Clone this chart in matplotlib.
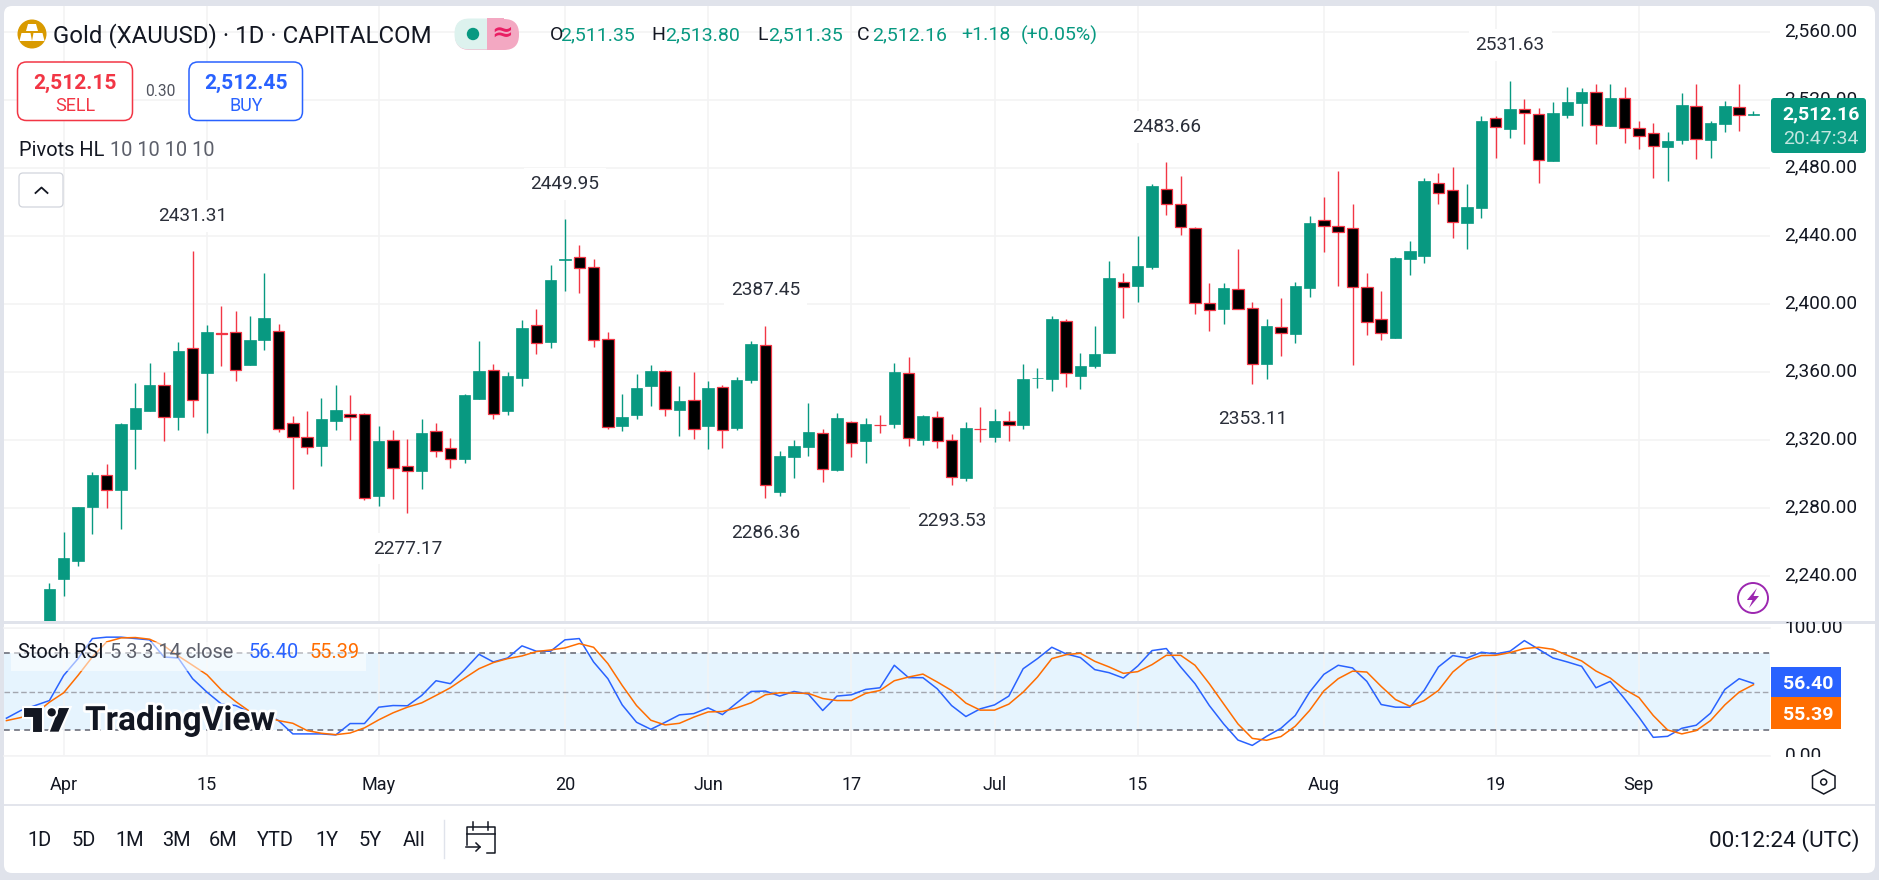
import matplotlib
matplotlib.use("Agg")
import matplotlib.pyplot as plt
import matplotlib.patheffects as pe
from matplotlib.patches import FancyBboxPatch, Rectangle, Circle, Polygon
from matplotlib.lines import Line2D
from matplotlib.transforms import Bbox, ScaledTranslation

opens = [2205.0,2238.6,2249.2,2280.8,2299.4,2291.0,2326.7,2337.3,2352.4,2333.9,2374.1,2359.8,2383.0,2383.5,2364.3,2379.0,2384.1,2330.0,2321.8,2316.7,
2331.4,2335.3,2335.3,2287.3,2320.0,2304.7,2302.0,2325.3,2315.3,2309.0,2344.3,2361.2,2337.3,2356.7,2387.6,2377.8,2426.3,2427.6,2421.8,2379.4,
2328.4,2334.9,2352.0,2360.6,2337.8,2343.5,2328.4,2351.4,2327.3,2355.5,2376.3,2289.6,2310.2,2316.1,2324.1,2302.5,2330.6,2319.6,2329.1,2329.6,
2359.4,2320.2,2333.5,2320.0,2297.8,2326.6,2322.0,2331.2,2329.0,2356.4,2356.1,2390.0,2357.8,2363.7,2371.4,2412.9,2410.8,2422.0,2467.6,2458.8,
2444.7,2400.6,2397.3,2408.8,2397.6,2364.9,2386.5,2382.5,2409.6,2449.4,2445.9,2444.7,2410.0,2391.2,2380.2,2426.7,2428.4,2471.2,2467.1,2447.8,
2456.7,2509.4,2503.1,2514.7,2511.8,2484.3,2511.4,2518.4,2524.7,2504.9,2521.2,2503.5,2500.6,2492.5,2496.7,2516.5,2496.7,2506.1,2515.9,2511.35]
highs = [2235.9,2266.1,2280.8,2301.4,2306.1,2330.2,2353.7,2365.5,2360.2,2377.8,2431.31,2387.8,2399.0,2396.1,2393.1,2418.4,2388.4,2334.3,2337.3,2344.9,
2352.5,2346.7,2336.1,2328.4,2326.1,2320.8,2332.5,2330.2,2321.4,2347.3,2378.4,2364.9,2360.2,2390.8,2397.3,2423.1,2449.95,2434.9,2426.7,2383.7,
2347.3,2359.0,2364.3,2361.4,2352.0,2360.2,2354.9,2352.5,2357.3,2378.4,2387.45,2313.7,2320.2,2342.0,2326.7,2336.1,2331.4,2333.1,2334.9,2365.5,
2369.0,2334.9,2337.3,2323.7,2330.8,2339.6,2338.4,2337.3,2364.9,2362.5,2393.1,2391.4,2371.4,2387.3,2425.5,2418.4,2440.2,2470.8,2483.66,2475.5,
2445.5,2412.5,2412.5,2432.5,2401.4,2391.4,2403.7,2413.1,2452.0,2463.1,2478.4,2459.0,2418.4,2407.8,2427.8,2437.3,2474.3,2477.3,2480.8,2470.8,
2510.8,2510.8,2531.63,2520.8,2515.5,2519.0,2527.8,2527.3,2529.6,2529.6,2527.8,2507.8,2506.7,2501.4,2524.3,2529.6,2507.8,2519.6,2529.6,2513.80]
lows = [2200.0,2228.4,2246.3,2265.1,2280.4,2268.0,2303.1,2337.3,2319.6,2326.1,2333.9,2324.3,2363.7,2354.9,2364.3,2373.1,2324.9,2291.4,2312.0,2304.9,
2326.1,2320.2,2284.9,2281.4,2285.5,2277.17,2291.4,2310.2,2303.7,2306.7,2344.3,2332.5,2334.9,2352.0,2370.8,2374.3,2407.8,2406.7,2374.9,2326.7,
2325.5,2332.5,2340.2,2334.3,2322.5,2320.8,2314.9,2315.5,2326.1,2353.7,2286.36,2287.3,2297.8,2310.8,2295.5,2302.0,2310.2,2306.7,2324.3,2327.3,
2316.7,2317.3,2315.5,2293.53,2296.1,2319.0,2319.0,2319.6,2326.7,2350.8,2349.0,2351.4,2350.2,2362.5,2371.4,2392.0,2401.4,2420.8,2452.5,2440.8,
2394.3,2384.3,2388.4,2397.1,2353.11,2356.1,2369.6,2377.3,2404.3,2430.8,2410.8,2364.3,2382.0,2379.0,2380.2,2417.3,2424.3,2459.0,2439.0,2432.5,
2450.8,2486.1,2497.8,2494.3,2471.4,2484.3,2509.6,2504.9,2494.3,2504.9,2494.9,2491.4,2474.3,2472.5,2494.3,2485.5,2486.1,2501.4,2502.0,2511.35]
closes = [2232.5,2250.8,2280.8,2299.6,2290.6,2329.6,2339.0,2352.5,2333.5,2372.5,2343.9,2383.7,2382.8,2361.2,2379.0,2392.0,2326.5,2321.8,2315.9,2332.5,
2337.8,2333.5,2285.9,2319.6,2303.5,2301.8,2324.3,2313.5,2308.8,2346.7,2360.8,2335.3,2357.8,2386.1,2377.1,2414.3,2426.5,2421.2,2379.0,2327.6,
2333.7,2350.8,2360.8,2338.2,2343.1,2326.5,2350.8,2325.9,2355.5,2376.7,2293.5,2310.8,2316.7,2324.9,2302.9,2333.1,2318.2,2329.6,2328.9,2360.2,
2321.2,2334.3,2319.4,2298.2,2327.3,2326.4,2331.4,2328.8,2356.1,2356.6,2391.4,2359.4,2363.7,2370.8,2415.5,2410.4,2422.5,2469.6,2458.8,2445.3,
2400.6,2396.5,2409.6,2397.1,2364.7,2387.3,2383.3,2410.8,2447.8,2445.9,2442.4,2410.0,2389.4,2382.9,2427.3,2431.4,2472.5,2465.3,2448.2,2457.3,
2507.8,2504.1,2514.9,2512.4,2484.7,2512.5,2519.0,2524.9,2505.3,2521.4,2503.5,2499.2,2493.3,2496.1,2517.3,2497.5,2506.7,2516.7,2511.6,2512.16]

stoch_k = [29.2,35.2,39.1,43.0,62.7,75.8,91.5,92.6,92.6,91.5,90.5,77.1,76.3,60.1,49.6,40.4,39.1,33.9,33.4,27.3,16.9,16.9,16.9,16.1,25.0,25.0,37.8,39.1,38.9,47.0,58.5,56.2,
67.2,79.2,73.2,76.3,85.8,81.6,81.6,90.5,91.5,73.2,60.1,39.6,26.0,20.5,26.0,31.8,32.8,37.3,32.0,41.2,50.1,50.4,46.5,50.1,48.0,35.2,46.5,47.5,51.7,53.0,70.6,
60.9,60.9,52.2,39.1,30.5,36.5,39.6,46.5,67.9,75.8,84.7,79.5,76.6,67.2,64.8,60.6,70.0,82.1,83.7,69.3,56.2,39.1,24.7,12.1,7.9,15.0,21.3,31.3,49.6,63.5,70.6,68.5,
58.0,39.9,37.8,37.8,50.9,69.3,78.2,76.3,80.8,79.5,81.6,89.9,83.1,76.3,73.2,69.8,53.0,58.0,44.4,30.0,14.2,15.0,21.3,23.7,33.1,51.7,60.1,56.40]
stoch_d = [27.3,29.7,32.6,41.7,49.1,62.7,77.1,88.9,92.0,92.3,91.0,85.8,77.9,70.6,63.2,51.4,42.3,34.4,30.7,27.3,25.2,19.5,17.4,16.3,17.6,21.6,27.9,33.4,37.8,41.2,47.0,53.0,
60.6,67.9,72.7,75.8,77.9,81.3,82.6,84.2,87.6,84.7,71.9,54.8,39.1,27.6,23.9,25.2,30.0,34.1,34.4,37.3,41.2,47.5,49.1,48.8,48.6,44.6,43.0,43.0,48.6,50.9,58.5,
61.4,63.7,57.5,50.9,41.0,35.5,35.5,40.2,49.6,61.4,75.8,78.9,80.0,73.7,69.3,64.3,65.6,71.1,78.4,78.4,70.6,56.2,40.4,24.7,13.4,11.9,14.8,22.9,35.2,50.6,60.1,66.0,
65.3,54.1,43.8,38.6,43.0,50.9,65.3,74.5,78.2,78.4,80.5,83.7,84.7,83.1,78.4,74.0,66.1,60.6,51.7,45.4,31.3,20.0,16.9,19.5,27.3,39.6,49.6,55.39]

pivot_idx = [10, 36, 50, 78, 102, 25, 50, 63, 84]
pivot_val = [2431.31, 2449.95, 2387.45, 2483.66, 2531.63, 2277.17, 2286.36, 2293.53, 2353.11]
pivot_side = [1, 1, 1, 1, 1, -1, -1, -1, -1]

date_idx = [1, 11, 23, 36, 46, 56, 66, 76, 89, 101, 111]
date_lab = ["Apr", "15", "May", "20", "Jun", "17", "Jul", "15", "Aug", "19", "Sep"]
price_ticks = [2240, 2280, 2320, 2360, 2400, 2440, 2480, 2520, 2560]
range_lab = ["1D", "5D", "1M", "3M", "6M", "YTD", "1Y", "5Y", "All"]
range_x = [39.6, 84, 129.5, 176, 223, 275, 327, 370.5, 413.7]

assert len(opens) == len(highs) == len(lows) == len(closes) == 120
assert len(stoch_k) == len(stoch_d) == 123

FONT = "Roboto"
plt.rcParams["font.family"] = FONT
W, H = 1879, 880
UP, DN, BLUE, ORANGE = "#089981", "#F23645", "#2962FF", "#FF6D00"
GRID, FRAME, INK, GREY = "#F3F3F4", "#E0E3EB", "#131722", "#787B86"

fig = plt.figure(figsize=(W / 100, H / 100), dpi=100, facecolor=FRAME)


def box(x0, y0, x1, y1):
    return [x0 / W, 1 - y1 / H, (x1 - x0) / W, (y1 - y0) / H]


def pixel_axes(zorder):
    a = fig.add_axes([0, 0, 1, 1], zorder=zorder)
    a.set_xlim(0, W)
    a.set_ylim(H, 0)
    a.axis("off")
    a.patch.set_alpha(0)
    return a


def raise_labels(labels, px):
    for t in labels:
        t.set_transform(t.get_transform() + ScaledTranslation(0, px / 100, fig.dpi_scale_trans))


bg = pixel_axes(-1)
bg.add_patch(FancyBboxPatch((8, 10), 1863, 859, boxstyle="round,pad=4,rounding_size=8", fc="white", ec="none"))
bg.add_patch(Rectangle((4, 621), 1871, 3.5, fc=FRAME, ec="none"))
bg.add_line(Line2D([4, 1875], [805, 805], color=FRAME, lw=1.3))

PX0, PDX = 49.4, 14.32
xlim = ((4 - PX0) / PDX, (1770 - PX0) / PDX)

ax = fig.add_axes(box(4, 6, 1770, 621), facecolor="none", zorder=1)
ax.set_xlim(*xlim)
ax.set_ylim(2400 - (621 - 304.33) / 1.7, 2400 + (304.33 - 6) / 1.7)
ax.set_xticks(date_idx)
ax.set_xticklabels([])
ax.set_yticks(price_ticks)
ax.set_yticklabels([f"{p:,.2f}" for p in price_ticks], fontsize=13.7, color=INK)
ax.yaxis.tick_right()
ax.tick_params(axis="both", length=0, pad=10.5)
raise_labels(ax.get_yticklabels(), 2.5)
ax.grid(True, color=GRID, lw=1.2)
ax.set_axisbelow(True)
for s in ax.spines.values():
    s.set_visible(False)

xs = list(range(len(opens)))
for i in xs:
    up = closes[i] >= opens[i]
    c = UP if up else DN
    ax.plot([i, i], [lows[i], highs[i]], color=c, lw=1.0, solid_capstyle="butt", zorder=2)
    ax.bar(i, abs(closes[i] - opens[i]), bottom=min(opens[i], closes[i]), width=0.8,
           color=UP if up else "black", edgecolor=c, linewidth=0.9 if not up else 0.5, zorder=3)

for i, v, side in zip(pivot_idx, pivot_val, pivot_side):
    ax.annotate(f"{v:.2f}", xy=(i, v), xytext=(0, side * 25.5), textcoords="offset points",
                ha="center", va="center", fontsize=13.7, color="#2A2E39", zorder=4,
                bbox=dict(fc="white", ec="none", pad=5))

ax2 = fig.add_axes(box(4, 627.7, 1770, 755.5), facecolor="none", zorder=1)
ax2.set_xlim(*xlim)
ax2.set_ylim(0, 100)
ax2.axhspan(20, 80, color="#E6F4FE", lw=0, zorder=0)
ax2.axhline(80, color=GREY, lw=1.3, ls=(0, (3.2, 2.4)), zorder=1)
ax2.axhline(20, color=GREY, lw=1.3, ls=(0, (3.2, 2.4)), zorder=1)
ax2.axhline(50, color="#A3A6AF", lw=1.0, ls=(0, (4, 2)), zorder=1)
ax2.set_xticks(date_idx)
ax2.set_xticklabels(date_lab, fontsize=13, color=INK)
ax2.set_yticks([0, 100])
ax2.set_yticklabels(["0.00", "100.00"], fontsize=13.7, color=INK)
ax2.yaxis.tick_right()
ax2.tick_params(axis="y", length=0, pad=10.5)
ax2.tick_params(axis="x", length=0, pad=14.5)
raise_labels(ax2.get_yticklabels(), 1.5)
ax2.grid(True, color=GRID, lw=1.1)
ax2.set_axisbelow(True)
for s in ax2.spines.values():
    s.set_color(GRID)
    s.set_linewidth(1.1)
ax2.spines["left"].set_visible(False)
ax2.spines["right"].set_visible(False)
clip = Bbox.from_extents(1771, H - 757, 1875, H - 622)
for t in ax2.get_yticklabels():
    t.set_clip_box(clip)
    t.set_clip_on(True)
sx = [i - 3 for i in range(len(stoch_k))]
ax2.plot(sx, stoch_k, color=BLUE, lw=1.1, zorder=3)
ax2.plot(sx, stoch_d, color=ORANGE, lw=1.1, zorder=4)

ui = pixel_axes(10)


def T(x, y, s, px, color=INK, ha="center", va="center", **kw):
    return ui.text(x, y, s, fontsize=px * 0.72, color=color, ha=ha, va=va, **kw)


def rbox(x0, y0, x1, y1, r, fc="white", ec="none", lw=1.0, **kw):
    p = FancyBboxPatch((x0 + r, y0 + r), x1 - x0 - 2 * r, y1 - y0 - 2 * r,
                       boxstyle=f"round,pad={r},rounding_size={r}", fc=fc, ec=ec, lw=lw, **kw)
    ui.add_patch(p)
    return p


# header
ui.add_patch(Circle((32, 34), 14.5, fc="#D99A00", ec="none"))
for pts in ([(28, 24), (36, 24), (38, 31), (26, 31)],
            [(19.5, 41), (21.5, 33), (30.5, 33), (32, 41)],
            [(32, 41), (33.5, 33), (42.5, 33), (44.5, 41)]):
    ui.add_patch(Polygon(pts, closed=True, fc="white", ec="none"))
T(53, 36, "Gold (XAUUSD) · 1D · CAPITALCOM", 24, ha="left")
rbox(455, 19, 519, 50, 15, fc="#F3A8C2")
ui.add_patch(FancyBboxPatch((470, 34), 17, 0, boxstyle="round,pad=15.5,rounding_size=15", fc="#DDF2EE", ec="none"))
ui.add_patch(Rectangle((487, 18), 17, 32.5, fc="#F3A8C2", ec="none"))
ui.add_patch(Circle((473, 34), 6.2, fc=UP, ec="none"))
T(502, 33, "≈", 26, color="#E91E63", family="DejaVu Sans", fontweight="bold")

OHLC = 19.5
T(550, 35, "O", OHLC, ha="left")
T(560, 35, "2,511.35", OHLC, color=UP, ha="left")
T(651, 35, "H", OHLC, ha="left")
T(665, 35, "2,513.80", OHLC, color=UP, ha="left")
T(757, 35, "L", OHLC, ha="left")
T(768, 35, "2,511.35", OHLC, color=UP, ha="left")
T(857, 35, "C", OHLC, ha="left")
T(872, 35, "2,512.16", OHLC, color=UP, ha="left")
T(961, 35, "+1.18", OHLC, color=UP, ha="left")
T(1021, 35, "(+0.05%)", OHLC, color=UP, ha="left")

rbox(17.5, 62, 132.5, 120.5, 9, ec=DN, lw=1.1)
T(75, 83, "2,512.15", 21, color=DN, fontweight="bold")
T(75, 106, "SELL", 18, color=DN)
T(160, 92, "0.30", 15.5, color="#50535E")
rbox(189, 62, 302.5, 120.5, 9, ec=BLUE, lw=1.1)
T(246, 83, "2,512.45", 21, color=BLUE, fontweight="bold")
T(246, 106, "BUY", 18, color=BLUE)

T(19, 150, "Pivots HL", 20, ha="left")
T(110, 150, "10 10 10 10", 20, color="#5D606B", ha="left")
rbox(19, 173, 63, 207, 4, ec="#D1D4DC", lw=0.9)
ui.add_line(Line2D([35.5, 41.5, 47.5], [193, 187.5, 193], color=INK, lw=1.3))

# live price tag
rbox(1771, 98, 1866, 153, 3, fc=UP)
T(1821, 114, "2,512.16", 19.5, color="white", fontweight="bold")
T(1821, 139, "20:47:34", 19.5, color="#C3E6E0")

# purple lightning badge
ui.add_patch(Circle((1753, 598), 15, fc="white", ec="#9C27B0", lw=1.4))
ui.add_patch(Polygon([(1757, 588), (1747, 600), (1752.5, 600), (1749, 608), (1759, 596), (1753.5, 596)],
                     closed=True, fc="#9C27B0", ec="none"))

# indicator legend
ui.add_patch(Rectangle((11, 642), 355, 29.5, fc="white", alpha=0.55, ec="none"))
T(18, 653, "Stoch RSI", 20, ha="left")
T(110, 653, "5 3 3 14 close", 20, color="#5D606B", ha="left")
T(249, 653, "56.40", 20, color=BLUE, ha="left")
T(310, 653, "55.39", 20, color=ORANGE, ha="left")

# indicator tags
ui.add_patch(Rectangle((1771, 667), 70, 30, fc=BLUE, ec="none"))
ui.add_patch(Rectangle((1771, 697), 70, 32, fc=ORANGE, ec="none"))
T(1808, 684, "56.40", 19.5, color="white", fontweight="bold")
T(1808, 715, "55.39", 19.5, color="white", fontweight="bold")

# TradingView logo
halo = [pe.withStroke(linewidth=4, foreground="white")]
logo = "#131722"
for shape in (Polygon([(22.7, 707), (43.3, 707), (43.3, 732.7), (32.3, 732.7), (32.3, 717.7), (22.7, 717.7)], closed=True),
              Polygon([(58.3, 707), (70.7, 707), (59.3, 732.7), (48.3, 732.7)], closed=True),
              Circle((51.7, 712.3), 5.2)):
    shape.set(fc=logo, ec="white", lw=1.5)
    ui.add_patch(shape)
T(85, 721, "TradingView", 33.5, color=logo, ha="left", fontweight="bold", path_effects=halo)

# gear
ui.add_patch(Polygon([(1823.7, 770), (1835, 776), (1835, 788), (1823.7, 794), (1812.5, 788), (1812.5, 776)],
                     closed=True, fc="none", ec=INK, lw=1.1))
ui.add_patch(Circle((1823.7, 782), 3, fc="none", ec=INK, lw=1.1))

# range bar
for x, s in zip(range_x, range_lab):
    T(x, 841, s, 20)
ui.add_line(Line2D([444, 444], [820, 858], color=FRAME, lw=1.0))
ui.add_line(Line2D([467, 467, 495, 495, 487], [845, 827, 827, 853, 853], color=INK, lw=1.1))
ui.add_line(Line2D([467, 495], [834, 834], color=INK, lw=1.1))
ui.add_line(Line2D([473, 473], [822, 830], color=INK, lw=1.1))
ui.add_line(Line2D([488, 488], [822, 830], color=INK, lw=1.1))
ui.add_line(Line2D([466, 480], [847, 847], color=INK, lw=1.1))
ui.add_line(Line2D([476, 480, 476], [843, 847, 851], color=INK, lw=1.1))
T(1784, 841, "00:12:24 (UTC)", 22.5)

fig.savefig("out.png", dpi=100, facecolor=FRAME)
